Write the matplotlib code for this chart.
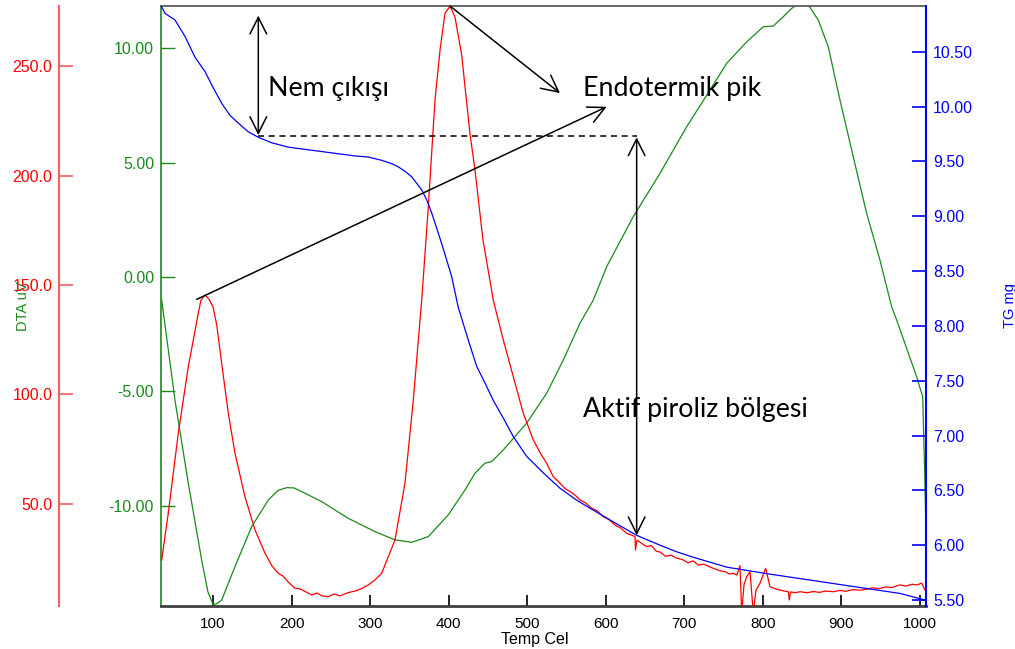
import numpy as np
import matplotlib
matplotlib.use('Agg')
from matplotlib import pyplot as plt
from matplotlib.ticker import FormatStrFormatter

# TG egrisi (kutle, mg)
tg_temp = [34.7, 38.9, 51.6, 64.4, 77.1, 89.8, 100.4, 111.1, 121.6, 132.2, 144.9, 157.7,
           174.7, 195.9, 217.1, 238.4, 259.5, 280.8, 297.7, 314.7, 327.5, 335.9, 344.4,
           352.9, 359.3, 365.7, 372.0, 378.4, 384.8, 391.1, 397.5, 403.8, 412.2, 425.0,
           435.7, 446.2, 456.8, 469.5, 482.3, 499.3, 520.4, 541.6, 563.0, 584.1, 605.3,
           639.3, 669.0, 690.2, 711.4, 753.9, 805.2, 974.5, 1006.3]
tg_mass = [10.91, 10.85, 10.79, 10.64, 10.45, 10.32, 10.17, 10.03, 9.92, 9.85, 9.77, 9.72,
           9.67, 9.63, 9.61, 9.59, 9.57, 9.55, 9.54, 9.51, 9.48, 9.45, 9.41,
           9.36, 9.30, 9.24, 9.15, 9.03, 8.89, 8.75, 8.60, 8.45, 8.17, 7.87,
           7.63, 7.48, 7.32, 7.16, 6.99, 6.81, 6.66, 6.52, 6.41, 6.32, 6.23,
           6.09, 6.00, 5.94, 5.89, 5.80, 5.74, 5.56, 5.50]

# DTA egrisi (uV)
dta_temp = [34.7, 51.6, 68.6, 85.6, 93.6, 100.4, 106.4, 111.1, 128.0, 149.3, 170.4, 182.7,
            193.8, 203.1, 212.9, 238.4, 272.2, 306.2, 331.6, 352.9, 374.1, 399.5, 420.8,
            433.5, 446.2, 454.8, 469.5, 499.3, 524.8, 545.9, 567.2, 584.1, 601.1, 635.0,
            669.0, 703.0, 732.6, 753.9, 779.4, 800.5, 813.2, 826.0, 836.6, 843.0, 857.8,
            870.5, 883.2, 898.1, 915.0, 932.1, 949.0, 963.9, 970.3, 995.7, 1003.4, 1006.3,
            1007.2]
dta_uv = [-1.01, -5.38, -9.02, -12.37, -13.77, -14.34, -14.25, -14.12, -12.66, -10.91, -9.75, -9.33,
          -9.21, -9.22, -9.38, -9.82, -10.55, -11.13, -11.49, -11.60, -11.35, -10.40, -9.31,
          -8.58, -8.14, -8.07, -7.56, -6.39, -5.08, -3.63, -2.02, -1.01, 0.45, 2.64,
          4.53, 6.57, 8.17, 9.34, 10.28, 10.94, 10.97, 11.38, 11.74, 11.90, 11.90,
          11.23, 10.07, 7.74, 5.26, 2.78, 0.74, -1.30, -1.88, -4.36, -5.23, -9.02,
          -10.62]

# DTG egrisi (kirmizi)
dtg_temp = [34.7, 43.1, 55.8, 68.6, 81.3, 84.7, 89.8, 94.9, 100.0, 104.7, 111.5, 119.5, 128.0,
            140.7, 153.5, 166.2, 175.1, 183.1, 189.1, 195.5, 204.4, 210.7, 218.4, 225.6, 232.4,
            238.7, 246.8, 254.0, 261.7, 272.2, 280.8, 288.4, 297.7, 306.2, 314.7, 331.7,
            344.4, 355.0, 365.7, 374.1, 382.6, 389.0, 395.3, 401.7, 408.0, 416.6, 427.1,
            433.5, 443.7, 456.8, 469.5, 482.3, 495.0, 507.7, 517.0, 524.8, 533.0, 541.7,
            548.0, 555.0, 561.0, 567.2, 574.0, 582.0, 589.0, 596.8, 604.0, 612.0, 619.0,
            626.6, 632.0, 637.2, 637.8, 639.7, 646.0, 652.1, 658.0, 664.0, 670.0, 676.0,
            683.0, 690.3, 697.0, 705.0, 711.0, 718.0, 725.0, 732.6, 739.0, 745.0, 752.0,
            757.0, 762.3, 767.0, 770.8, 773.0, 775.9, 779.3, 783.6, 787.8, 791.2, 796.3,
            803.5, 809.0, 815.0, 821.7, 827.0, 832.3, 833.6, 835.1, 841.0, 847.8, 856.0,
            864.0, 872.0, 880.0, 890.0, 898.0, 906.0, 915.0, 923.0, 932.0, 940.0, 948.0,
            956.0, 964.0, 974.5, 982.0, 990.0, 996.0, 1002.1, 1006.3]
dtg_val = [24.3, 45.7, 82.2, 112.7, 137.1, 143.1, 145.4, 143.6, 140.0, 132.0, 113.0, 91.4, 73.1,
           53.2, 38.0, 27.4, 21.6, 18.2, 17.0, 14.3, 11.4, 11.1, 9.7, 8.3, 9.2,
           7.9, 7.5, 8.8, 7.9, 9.4, 10.1, 11.1, 12.9, 15.2, 18.2, 33.5,
           59.4, 97.4, 143.1, 185.8, 234.6, 257.4, 274.2, 277.5, 272.6, 255.1, 219.3,
           202.6, 170.6, 143.1, 124.9, 108.1, 91.4, 79.2, 73.0, 68.5, 62.5, 59.4,
           57.0, 55.5, 54.0, 51.7, 50.5, 48.0, 46.8, 44.1, 42.8, 40.2, 38.9,
           36.5, 35.8, 35.0, 28.9, 33.4, 31.8, 30.4, 30.9, 28.4, 27.8, 26.0,
           26.5, 25.1, 24.6, 23.0, 23.9, 22.0, 22.4, 21.1, 20.2, 19.4, 19.0,
           17.9, 18.2, 17.4, 21.7, 0.0, 12.9, 16.7, 18.9, 0.0, 10.6, 13.7,
           20.5, 12.1, 11.2, 10.6, 10.1, 9.8, 6.0, 9.7, 9.4, 9.8, 9.3,
           9.9, 9.5, 10.1, 9.8, 10.4, 10.0, 10.8, 10.5, 10.9, 11.6, 11.2,
           12.0, 11.7, 12.9, 12.4, 13.2, 12.9, 13.7, 10.6]

temp_ticks = [100, 200, 300, 400, 500, 600, 700, 800, 900, 1000]
dta_ticks = [-10, -5, 0, 5, 10]
dtg_ticks = [50, 100, 150, 200, 250]
tg_ticks = [5.5, 6.0, 6.5, 7.0, 7.5, 8.0, 8.5, 9.0, 9.5, 10.0, 10.5]

plt.rcParams['font.family'] = ['Liberation Sans', 'DejaVu Sans']
green = '#1a8a1a'
red = '#ff0000'
blue = '#0000ff'
tick_fs = 11.5

fig = plt.figure(figsize=(10.15, 6.49), dpi=100)
ax = fig.add_axes([0.1586, 0.0667, 0.7537, 0.9245])
ax_dtg = ax.twinx()
ax_tg = ax.twinx()

# DTA (ana eksen, yesil)
ax.plot(dta_temp, dta_uv, color=green, lw=0.9)
ax.set_xlim(33.8, 1007.6)
ax.set_ylim(-14.37, 11.86)
ax.set_xticks(temp_ticks)
ax.set_yticks(dta_ticks)
ax.yaxis.set_major_formatter(FormatStrFormatter('%.2f'))
ax.tick_params(axis='x', direction='in', length=8, width=1.2, color='black',
               labelsize=11, pad=8)
ax.tick_params(axis='y', direction='in', length=10, width=1, color=green,
               labelcolor=green, labelsize=tick_fs, pad=5)
ax.spines['left'].set_color(green)
ax.spines['left'].set_linewidth(1.2)
ax.spines['bottom'].set_color('#404040')
ax.spines['bottom'].set_linewidth(2)
ax.spines['top'].set_color('#505050')
ax.spines['top'].set_linewidth(1.2)
ax.spines['right'].set_visible(False)
ax.set_xlabel('Temp Cel', fontsize=11.5)
ax.xaxis.set_label_coords(0.489, -0.043)
ax.set_ylabel('DTA uV', color=green, fontsize=10.5)
ax.yaxis.set_label_coords(-0.171, 0.5)

# kirmizi eksen, sol tarafa kaydirildi
ax_dtg.plot(dtg_temp, dtg_val, color=red, lw=0.9)
ax_dtg.set_ylim(3.4, 277.7)
ax_dtg.set_yticks(dtg_ticks)
ax_dtg.yaxis.set_major_formatter(FormatStrFormatter('%.1f'))
ax_dtg.yaxis.set_label_position('left')
ax_dtg.yaxis.set_ticks_position('left')
for s in ['right', 'top', 'bottom']:
    ax_dtg.spines[s].set_visible(False)
ax_dtg.spines['left'].set_position(('axes', -0.133))
ax_dtg.spines['left'].set_color('#f06060')
ax_dtg.spines['left'].set_linewidth(1.5)
ax_dtg.tick_params(axis='y', direction='in', length=10, width=1.2, color='#f06060',
                   labelcolor=red, labelsize=tick_fs, pad=5)

# TG (mavi, sag eksen)
ax_tg.plot(tg_temp, tg_mass, color=blue, lw=0.9)
ax_tg.set_ylim(5.448, 10.92)
ax_tg.set_yticks(tg_ticks)
ax_tg.yaxis.set_major_formatter(FormatStrFormatter('%.2f'))
for s in ['left', 'top', 'bottom']:
    ax_tg.spines[s].set_visible(False)
ax_tg.spines['right'].set_color(blue)
ax_tg.spines['right'].set_linewidth(1.5)
ax_tg.tick_params(axis='y', direction='in', length=10, width=1.2, color=blue,
                  labelcolor=blue, labelsize=tick_fs, pad=5)
ax_tg.set_ylabel('TG mg', color=blue, fontsize=10.5, rotation=90)
ax_tg.yaxis.set_label_coords(1.1007, 0.5)

# aciklamalar
arrow_kw = dict(arrowstyle='->,head_length=1.2,head_width=0.6', color='black', lw=1.1,
                shrinkA=0, shrinkB=0, mutation_scale=10)
both_kw = dict(arrow_kw, arrowstyle='<->,head_length=1.2,head_width=0.6')
ax_tg.annotate('', xy=(157.7, 10.83), xytext=(157.7, 9.74), arrowprops=both_kw)
ax_tg.plot([157.7, 639.3], [9.73, 9.73], color='black', lw=1.1, ls=(0, (4, 3)))
ax_tg.annotate('', xy=(639.3, 9.72), xytext=(639.3, 6.09), arrowprops=both_kw)
ax_tg.annotate('', xy=(541.7, 10.123), xytext=(401.7, 10.917), arrowprops=arrow_kw)
ax_tg.annotate('', xy=(601.1, 9.998), xytext=(79.3, 8.242), arrowprops=arrow_kw)

text_font = dict(family=['Lato', 'DejaVu Sans'], fontsize=19.3, color='black', va='center')
ax_tg.text(170.0, 10.169, 'Nem çıkışı', **text_font)
ax_tg.text(571.0, 10.169, 'Endotermik pik', **text_font)
ax_tg.text(571.0, 7.233, 'Aktif piroliz bölgesi', **text_font)

fig.savefig('out.png', dpi=100)
